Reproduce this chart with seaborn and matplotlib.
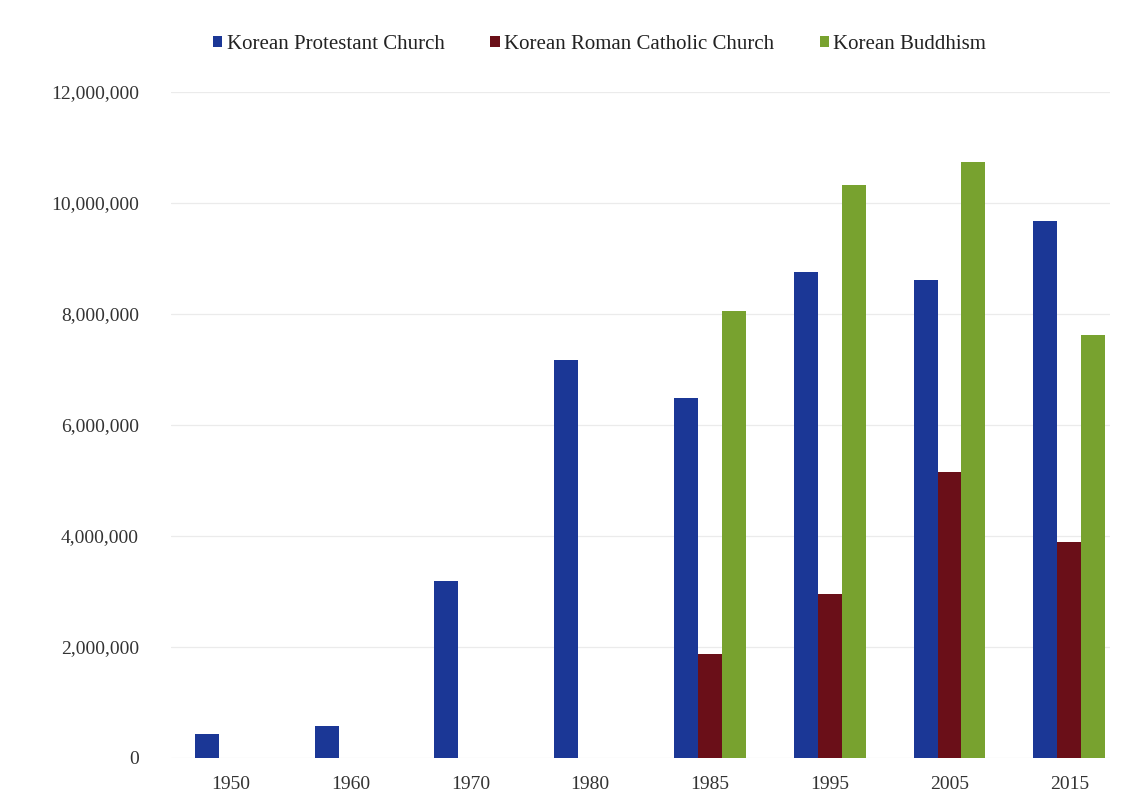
import pandas as pd
import numpy as np
import matplotlib
matplotlib.use('Agg')
import matplotlib.pyplot as plt
import seaborn as sns
from matplotlib.ticker import FuncFormatter

# 数据
years = ['1950', '1960', '1970', '1980', '1985', '1995', '2005', '2015']
protestant = [440000, 570000, 3190000, 7180000, 6490000, 8760000, 8620000, 9680000]
catholic = [np.nan, np.nan, np.nan, np.nan, 1870000, 2950000, 5150000, 3890000]
buddhism = [np.nan, np.nan, np.nan, np.nan, 8060000, 10320000, 10730000, 7620000]
series_names = ['Korean Protestant Church', 'Korean Roman Catholic Church', 'Korean Buddhism']
colors = ['#1b3796', '#6a0f18', '#78a22f']

df = pd.DataFrame({
    'year': years * 3,
    'religion': [series_names[0]] * 8 + [series_names[1]] * 8 + [series_names[2]] * 8,
    'value': protestant + catholic + buddhism,
})

sns.set_theme(style='white')
plt.rcParams['font.family'] = ['Liberation Serif', 'DejaVu Serif']

fig = plt.figure(figsize=(11.27, 7.99), dpi=100)
ax = fig.add_axes([171 / 1127, 41 / 799, (1110 - 171) / 1127, 666 / 799])

sns.barplot(data=df, x='year', y='value', hue='religion', hue_order=series_names,
            palette=colors, width=0.6, saturation=1, linewidth=0, ax=ax, legend=True)

ax.set_xlim(-0.5, 7.34)
ax.set_ylim(0, 12000000)
ax.set_yticks(np.arange(0, 12000001, 2000000))
ax.yaxis.set_major_formatter(FuncFormatter(lambda v, p: f'{int(v):,}'))
ax.grid(axis='y', color='#ebebeb', linewidth=0.9)
ax.set_axisbelow(True)
for s in ax.spines.values():
    s.set_visible(False)
ax.set_xlabel('')
ax.set_ylabel('')
ax.tick_params(axis='y', labelsize=14, pad=17)
ax.tick_params(axis='x', labelsize=14, pad=7)
for lab in ax.get_xticklabels() + ax.get_yticklabels():
    lab.set_color('#333333')

leg = ax.legend(loc='center', bbox_to_anchor=(0.532, 0.944), bbox_transform=fig.transFigure,
                ncol=3, frameon=False, fontsize=15, handlelength=0.45, handleheight=0.45,
                handletextpad=0.2, columnspacing=2.2)
for t in leg.get_texts():
    t.set_color('#222222')

plt.savefig('out.png', dpi=100)
plt.close()
